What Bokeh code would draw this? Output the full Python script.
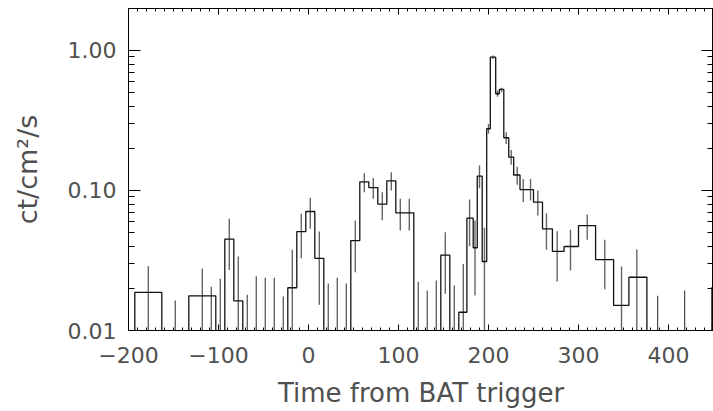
import numpy as np
from bokeh.plotting import figure
from bokeh.models import (Range1d, LinearAxis, LogAxis, FixedTicker,
                          CustomJSTickFormatter)
from bokeh.embed import file_html
from bokeh.resources import INLINE

# ---------------- data ----------------
# histogram bin edges (s from BAT trigger) and rate per bin (ct/cm^2/s)
bin_edges = [-193, -163, -133, -103, -93, -83, -73, -63, -53, -43, -33, -23,
             -13, -3, 7, 17, 27, 37, 47, 57, 67, 77, 87, 97, 107, 117, 127,
             137, 147, 157, 167, 176, 183, 187.5, 193, 198, 202, 208, 212,
             217, 222.5, 228, 235, 243, 250, 260, 271, 284, 300, 319, 339,
             356, 376]
bin_rate = [0.0187, 0.005, 0.0177, 0.005, 0.0449, 0.0163, 0.005, 0.005,
            0.005, 0.005, 0.005, 0.0202, 0.0509, 0.0708, 0.0328, 0.005,
            0.005, 0.005, 0.0439, 0.1153, 0.105, 0.0798, 0.1173, 0.0693,
            0.0693, 0.005, 0.005, 0.005, 0.0345, 0.005, 0.0135, 0.0634,
            0.039, 0.1266, 0.0311, 0.276, 0.896, 0.491, 0.527, 0.238, 0.173,
            0.129, 0.1016, 0.1016, 0.0825, 0.0532, 0.0367, 0.0398, 0.0562,
            0.0321, 0.0151, 0.024]
floor_rate = 0.005

# error bars: time, lower and upper end
err_t = [-178, -148, -118, -108, -98, -88, -78, -68, -58, -48, -38, -28,
         -18, -8, 2, 12, 22, 32, 42, 52, 62, 72, 82, 92, 102, 112, 122, 132,
         142, 152, 162, 172, 179, 185, 190, 195.5, 200, 205, 210, 214.5,
         219.7, 225.2, 231.9, 238.6, 246.7, 254.8, 264.4, 276.3, 291.1,
         309.7, 329.2, 347.8, 364.8]
err_lo = [0.001, 0.001, 0.001, 0.001, 0.001, 0.0271, 0.001, 0.001, 0.001,
          0.001, 0.001, 0.001, 0.001, 0.0328, 0.0532, 0.0153, 0.001, 0.001,
          0.001, 0.0261, 0.0972, 0.0872, 0.0614, 0.100, 0.0518, 0.0518,
          0.001, 0.001, 0.001, 0.0183, 0.001, 0.001, 0.040, 0.0178, 0.1038,
          0.001, 0.254, 0.87, 0.468, 0.504, 0.215, 0.153, 0.110, 0.0825,
          0.0849, 0.0663, 0.0377, 0.0224, 0.0268, 0.0444, 0.0197, 0.001,
          0.001]
err_hi = [0.0288, 0.0164, 0.0277, 0.0205, 0.0234, 0.0628, 0.0338, 0.0180,
          0.0244, 0.0238, 0.0238, 0.0175, 0.0377, 0.0682, 0.0887, 0.0509,
          0.0217, 0.0238, 0.0217, 0.0611, 0.133, 0.123, 0.0972, 0.135,
          0.0873, 0.0873, 0.0223, 0.0193, 0.0228, 0.0504, 0.0210, 0.0299,
          0.0862, 0.0611, 0.151, 0.0541, 0.299, 0.92, 0.515, 0.541, 0.261,
          0.195, 0.148, 0.121, 0.121, 0.100, 0.0689, 0.0512, 0.0524, 0.0674,
          0.0444, 0.0286, 0.0379]

# late upper-limit bars
ul_t = [388, 418, 448]
ul_hi = [0.0177, 0.0193, 0.0204]

x_major = [-200, -100, 0, 100, 200, 300, 400]
y_major = [0.01, 0.1, 1.0]
x_label = "Time from BAT trigger"
y_label = "ct/cm\u00b2/s"

# ---------------- figure ----------------
p = figure(width=713, height=411, output_backend="svg", toolbar_location=None,
           x_range=Range1d(-200, 450), y_range=Range1d(0.01, 1.995),
           y_axis_type="log", x_axis_location=None, y_axis_location=None,
           min_border_left=128, min_border_right=0, min_border_top=8,
           min_border_bottom=81)
p.grid.visible = False
p.outline_line_color = "black"
p.outline_line_width = 1
p.background_fill_color = "white"
p.border_fill_color = "white"

x_minor = list(np.arange(-200, 450, 10))
y_minor = [m * 10.0 ** e for e in (-2, -1, 0) for m in range(2, 10)]

FONT = "DejaVu Sans"
TXT = "#505050"

xfmt = CustomJSTickFormatter(code="return tick < 0 ? '\\u2212' + Math.abs(tick) : '' + tick;")
yfmt = CustomJSTickFormatter(code="return tick.toFixed(2);")
blank = CustomJSTickFormatter(code="return '';")


def style(ax, tin, labels=True):
    ax.axis_line_color = "black"
    ax.axis_line_width = 1
    ax.major_tick_in = tin
    ax.major_tick_out = 0
    ax.minor_tick_in = tin // 2
    ax.minor_tick_out = 0
    ax.major_tick_line_color = "black"
    ax.minor_tick_line_color = "black"
    ax.major_label_text_font = FONT
    ax.major_label_text_color = TXT
    ax.axis_label_text_font = FONT
    ax.axis_label_text_color = TXT
    ax.axis_label_text_font_style = "normal"
    if not labels:
        ax.major_label_text_font_size = "0px"
        ax.major_label_standoff = 0


xb = LinearAxis(ticker=FixedTicker(ticks=x_major, minor_ticks=x_minor),
                formatter=xfmt, axis_label=x_label)
style(xb, 6)
xb.major_label_text_font_size = "22px"
xb.major_label_standoff = 16
xb.axis_label_text_font_size = "26px"
xb.axis_label_standoff = 12
p.add_layout(xb, "below")

xt = LinearAxis(ticker=FixedTicker(ticks=x_major, minor_ticks=x_minor),
                formatter=blank)
style(xt, 6, labels=False)
p.add_layout(xt, "above")

yl = LogAxis(ticker=FixedTicker(ticks=y_major, minor_ticks=y_minor),
             formatter=yfmt, axis_label=y_label)
style(yl, 12)
yl.major_label_text_font_size = "22px"
yl.major_label_standoff = 12
yl.axis_label_text_font_size = "27px"
yl.axis_label_standoff = 22
p.add_layout(yl, "left")

yr = LogAxis(ticker=FixedTicker(ticks=y_major, minor_ticks=y_minor),
             formatter=blank)
style(yr, 12, labels=False)
p.add_layout(yr, "right")

# error bars
p.segment(x0=err_t, y0=err_lo, x1=err_t, y1=err_hi,
          line_color="#666666", line_width=1.4)
p.segment(x0=ul_t, y0=[floor_rate] * len(ul_t), x1=ul_t, y1=ul_hi,
          line_color="#222222", line_width=1.0)

# histogram (step)
sx = [bin_edges[0]] + list(bin_edges)
sy = [floor_rate] + list(bin_rate) + [floor_rate]
p.step(x=sx, y=sy, mode="after", line_color="#111111", line_width=1.3)

open("out.html", "w").write(file_html(p, INLINE))
